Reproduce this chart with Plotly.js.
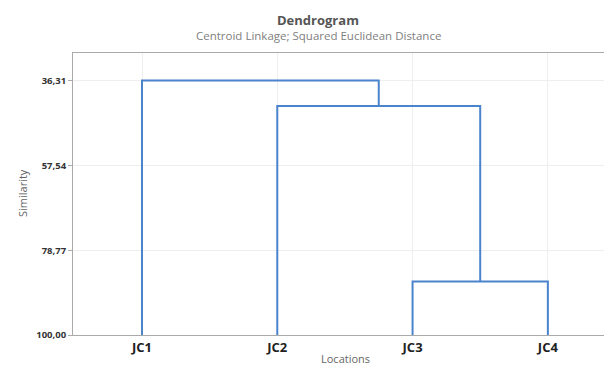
<!DOCTYPE html>
<html>
<head>
<meta charset="utf-8">
<script src="https://cdn.plot.ly/plotly-3.0.1.min.js"></script>
<style>html,body{margin:0;padding:0;background:#fff;}#chart{width:604px;height:368px;}</style>
</head>
<body>
<div id="chart"></div>
<script>
// Data
var categories = ["JC1", "JC2", "JC3", "JC4"];
// merges: [left node, right node, similarity level]; nodes 0..3 are leaves, 4.. are clusters
var mergeLeft = [2, 1, 0];
var mergeRight = [3, 4, 5];
var mergeLevel = [86.6, 42.7, 36.31];
var tickValsY = [36.31, 57.54, 78.77, 100.00];
var tickTextY = ["36,31", "57,54", "78,77", "100,00"];

// node positions
var nodeX = categories.map(function (c, i) { return i; });
var nodeY = categories.map(function () { return 100; });
var traces = [];
for (var k = 0; k < mergeLevel.length; k++) {
  var a = mergeLeft[k], b = mergeRight[k], h = mergeLevel[k];
  traces.push({
    type: 'scatter', mode: 'lines',
    x: [nodeX[a], nodeX[a], nodeX[b], nodeX[b]],
    y: [nodeY[a], h, h, nodeY[b]],
    line: {color: '#4a84cc', width: 2},
    hoverinfo: 'skip', showlegend: false
  });
  nodeX.push((nodeX[a] + nodeX[b]) / 2);
  nodeY.push(h);
}

var L = 73, R = 604, T = 53, B = 335;
function px(x) { return (x - L) / (R - L); }
function py(y) { return (B - y) / (B - T); }
var fam = '"Open Sans", "Noto Sans", sans-serif';

var layout = {
  width: 604, height: 368,
  margin: {l: L, r: 604 - R, t: T, b: 368 - B, pad: 0},
  paper_bgcolor: '#ffffff', plot_bgcolor: '#ffffff',
  font: {family: fam},
  xaxis: {
    range: [-0.51, 3.415], tickvals: [0, 1, 2, 3], ticktext: categories,
    showgrid: true, gridcolor: '#eeeeee', gridwidth: 1,
    showline: true, linecolor: '#aaaaaa', linewidth: 1, mirror: true,
    ticks: '', zeroline: false,
    tickfont: {family: fam, size: 13, color: '#222222', weight: 'bold'}
  },
  yaxis: {
    range: [100, 29.4], tickvals: tickValsY, ticktext: tickTextY,
    showgrid: true, gridcolor: '#eeeeee', gridwidth: 1,
    showline: true, linecolor: '#aaaaaa', linewidth: 1, mirror: false,
    ticks: 'outside', ticklen: 4, tickcolor: '#aaaaaa', zeroline: false,
    tickfont: {family: fam, size: 9.5, color: '#333333', weight: 'bold'}
  },
  annotations: [
    {text: '<b>Dendrogram</b>', xref: 'paper', yref: 'paper', x: px(318), y: py(20),
     xanchor: 'center', yanchor: 'middle', showarrow: false,
     font: {family: fam, size: 13, color: '#555555'}},
    {text: 'Centroid Linkage; Squared Euclidean Distance', xref: 'paper', yref: 'paper', x: px(318), y: py(36),
     xanchor: 'center', yanchor: 'middle', showarrow: false,
     font: {family: fam, size: 11.5, color: '#808080'}},
    {text: 'Similarity', xref: 'paper', yref: 'paper', x: px(22), y: py(193), textangle: -90,
     xanchor: 'center', yanchor: 'middle', showarrow: false,
     font: {family: fam, size: 11, color: '#666666'}},
    {text: 'Locations', xref: 'paper', yref: 'paper', x: px(345), y: py(368),
     xanchor: 'center', yanchor: 'bottom', showarrow: false,
     font: {family: fam, size: 11, color: '#666666'}}
  ]
};

Plotly.newPlot('chart', traces, layout, {displayModeBar: false, staticPlot: true});
</script>
</body>
</html>
